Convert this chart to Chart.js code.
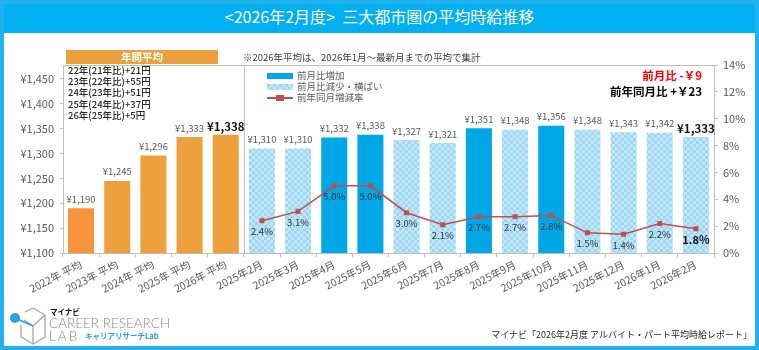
<!DOCTYPE html>
<html><head><meta charset="utf-8">
<script src="https://cdn.jsdelivr.net/npm/chart.js@4"></script>
<style>
body{margin:0;background:#fff;font-family:"Noto Sans CJK JP","Noto Sans",sans-serif;}
#wrap{position:relative;width:759px;height:350px;overflow:hidden;background:#fff;}
#border{position:absolute;left:0;top:0;width:759px;height:350px;box-sizing:border-box;border:4px solid #22b0ee;}
#titlebar{position:absolute;left:0;top:0;width:759px;height:33px;background:#00b0f0;color:#fff;font-size:16px;line-height:33px;text-align:center;}
canvas{position:absolute;left:0;top:0;}
.abs{position:absolute;white-space:nowrap;}
.pat{background-color:#9dd7f4;background-image:conic-gradient(#c2e7f9 25%,transparent 0 50%,#c2e7f9 0 75%,transparent 0);background-size:6px 6px;}
</style></head>
<body>
<div id="wrap">
  <canvas id="c" width="759" height="350"></canvas>
  <div id="titlebar">&lt;2026年2月度&gt;&nbsp;&nbsp;三大都市圏の平均時給推移</div>
  <div id="border"></div>

  <div class="abs" style="left:66px;top:50px;width:152px;height:14px;background:#eda03e;color:#fff;font-weight:bold;font-size:10.5px;line-height:14px;text-align:center;">年間平均</div>
  <div class="abs" style="left:243px;top:51px;font-size:9.5px;line-height:12px;color:#404040;">※2026年平均は、2026年1月～最新月までの平均で集計</div>

  <div class="abs" style="left:68px;top:65px;font-size:9.5px;line-height:11.2px;color:#262626;font-weight:500;">22年(21年比)+21円<br>23年(22年比)+55円<br>24年(23年比)+51円<br>25年(24年比)+37円<br>26年(25年比)+5円</div>

  <div class="abs" style="left:267px;top:73px;width:26px;height:6px;background:#00a7e6;"></div>
  <div class="abs pat" style="left:267px;top:84px;width:26px;height:6px;"></div>
  <div class="abs" style="left:267px;top:97px;width:26px;height:2px;background:#c0504d;"></div>
  <div class="abs" style="left:276px;top:95px;width:8px;height:6px;background:#c0504d;"></div>
  <div class="abs" style="left:297px;top:70px;font-size:9.5px;line-height:11px;color:#595959;">前月比増加<br>前月比減少・横ばい<br>前年同月増減率</div>

  <div class="abs" style="right:57px;top:68px;font-size:11.5px;line-height:15px;color:#ff0000;font-weight:bold;">前月比 -￥9</div>
  <div class="abs" style="right:57px;top:84px;font-size:11.5px;line-height:15px;color:#000;font-weight:bold;">前年同月比 +￥23</div>

  <svg class="abs" style="left:0;top:295px;" width="50" height="55" viewBox="0 295 50 55">
    <g fill="none" stroke="#a6a6a6" stroke-width="1.3">
      <path d="M33 308 L45 315 L45 337 L33 344 L21 337 L21 325"/>
      <path d="M33 308 L25 312"/>
      <path d="M33 326 L45 315 M33 326 L33 344 M33 326 L24 320"/>
    </g>
    <line x1="15" y1="318" x2="33" y2="326" stroke="#29a3dc" stroke-width="1.6"/>
    <circle cx="15" cy="318" r="5" fill="#29a3dc"/>
  </svg>
  <div class="abs" style="left:50px;top:307px;font-size:7.5px;line-height:10px;font-weight:bold;color:#111;">マイナビ</div>
  <div class="abs" style="left:49px;top:315px;font-family:Lato,'Open Sans',sans-serif;font-weight:300;font-size:13.5px;line-height:16px;color:#8c8c8c;">CAREER RESEARCH</div>
  <div class="abs" style="left:49px;top:328px;font-family:Lato,'Open Sans',sans-serif;font-weight:300;font-size:13.5px;line-height:16px;color:#8c8c8c;letter-spacing:2px;">LAB</div>
  <div class="abs" style="left:85px;top:331px;font-size:7.5px;line-height:10px;font-weight:bold;color:#29a3dc;">キャリアリサーチLab</div>

  <div class="abs" style="right:7px;top:329px;font-size:9px;line-height:12px;color:#262626;">マイナビ「2026年2月度 アルバイト・パート平均時給レポート」</div>
</div>
<script>
const annualLabels = ['2022年 平均','2023年 平均','2024年 平均','2025年 平均','2026年 平均'];
const annualWage   = [1190, 1245, 1296, 1333, 1338];
const monthLabels  = ['2025年2月','2025年3月','2025年4月','2025年5月','2025年6月','2025年7月','2025年8月','2025年9月','2025年10月','2025年11月','2025年12月','2026年1月','2026年2月'];
const monthWage    = [1310, 1310, 1332, 1338, 1327, 1321, 1351, 1348, 1356, 1348, 1343, 1342, 1333];
const monthUp      = [false, false, true, true, false, false, true, false, true, false, false, false, false];
const yoyRate      = [2.4, 3.1, 5.0, 5.0, 3.0, 2.1, 2.7, 2.7, 2.8, 1.5, 1.4, 2.2, 1.8];
const wageTicks    = [1100, 1150, 1200, 1250, 1300, 1350, 1400, 1450];
const rateTicks    = [0, 2, 4, 6, 8, 10, 12, 14];

const FONT = '"Noto Sans CJK JP","Noto Sans",sans-serif';
const labels = annualLabels.concat(monthLabels);
const wages = annualWage.concat(monthWage);
const rates = annualLabels.map(() => null).concat(yoyRate);
const boldIdx = [annualWage.length - 1, labels.length - 1];

const pc = document.createElement('canvas');
pc.width = 6; pc.height = 6;
const pctx = pc.getContext('2d');
pctx.fillStyle = '#9dd7f4'; pctx.fillRect(0,0,6,6);
pctx.fillStyle = '#c2e7f9'; pctx.fillRect(0,0,3,3); pctx.fillRect(3,3,3,3);
const pattern = document.getElementById('c').getContext('2d').createPattern(pc, 'repeat');

const barColors = annualWage.map((v,i) => i === 0 ? '#f7953f' : '#eea03c')
  .concat(monthUp.map(u => u ? '#00a7e6' : pattern));

const framePlugin = {
  id: 'frame',
  beforeDatasetsDraw(chart) {
    const {ctx, chartArea: a, scales: {x}} = chart;
    ctx.save();
    ctx.strokeStyle = '#bfbfbf'; ctx.lineWidth = 1;
    ctx.beginPath();
    ctx.moveTo(a.left, Math.round(a.top) + 0.5); ctx.lineTo(a.right, Math.round(a.top) + 0.5);
    const dx = Math.round((x.getPixelForValue(annualLabels.length - 1) + x.getPixelForValue(annualLabels.length)) / 2) + 0.5;
    ctx.moveTo(dx, a.top); ctx.lineTo(dx, a.bottom);
    ctx.stroke();
    ctx.restore();
  }
};

const labelPlugin = {
  id: 'vlabels',
  afterDatasetsDraw(chart) {
    const ctx = chart.ctx;
    ctx.save();
    ctx.textAlign = 'center'; ctx.textBaseline = 'middle';
    chart.getDatasetMeta(0).data.forEach((el, i) => {
      const b = boldIdx.includes(i);
      ctx.font = (b ? 'bold 11.5px ' : '9.5px ') + FONT;
      ctx.fillStyle = b ? '#111' : '#595959';
      ctx.fillText('¥' + wages[i].toLocaleString('en-US'), el.x, el.y - (b ? 8 : 9));
    });
    chart.getDatasetMeta(1).data.forEach((el, i) => {
      if (rates[i] == null) return;
      const b = i === labels.length - 1;
      ctx.font = (b ? 'bold 11px ' : '9.5px ') + FONT;
      ctx.fillStyle = b ? '#111' : '#333';
      ctx.fillText(rates[i].toFixed(1) + '%', el.x, el.y + 11);
    });
    ctx.restore();
  }
};

new Chart(document.getElementById('c'), {
  data: {
    labels: labels,
    datasets: [
      { type: 'bar', data: wages, backgroundColor: barColors, yAxisID: 'y', order: 2,
        categoryPercentage: 0.72, barPercentage: 1 },
      { type: 'line', data: rates, yAxisID: 'y1', order: 1, borderColor: '#c0504d', borderWidth: 1.5,
        pointStyle: 'rect', pointRadius: 2.5, pointBackgroundColor: '#c0504d', pointBorderColor: '#c0504d',
        tension: 0, spanGaps: false }
    ]
  },
  options: {
    responsive: false, animation: false, devicePixelRatio: 1,
    layout: { padding: { top: 65, left: 0, right: 0, bottom: 0 } },
    plugins: { legend: { display: false }, tooltip: { enabled: false } },
    scales: {
      x: {
        offset: true,
        grid: { display: true, drawOnChartArea: false, tickLength: 4, color: '#bfbfbf', offset: true },
        border: { color: '#bfbfbf' },
        ticks: { autoSkip: false, minRotation: 27, maxRotation: 27, color: '#595959', font: { size: 10.5, family: FONT }, padding: 1 },
        afterFit(s) { s.height = 97; }
      },
      y: {
        position: 'left', min: 1100, max: 1478,
        afterBuildTicks(s) { s.ticks = wageTicks.map(v => ({ value: v })); },
        ticks: { callback: v => '¥' + Number(v).toLocaleString('en-US'), color: '#595959', font: { size: 11, family: FONT }, padding: 6 },
        grid: { display: true, drawOnChartArea: false, tickLength: 3, color: '#bfbfbf' },
        border: { color: '#bfbfbf' },
        afterFit(s) { s.width = 63; }
      },
      y1: {
        position: 'right', min: 0, max: 14,
        afterBuildTicks(s) { s.ticks = rateTicks.map(v => ({ value: v })); },
        ticks: { callback: v => v + '%', color: '#595959', font: { size: 11, family: FONT }, padding: 5 },
        grid: { display: true, drawOnChartArea: false, tickLength: 4, color: '#bfbfbf' },
        border: { color: '#bfbfbf' },
        afterFit(s) { s.width = 45; }
      }
    }
  },
  plugins: [framePlugin, labelPlugin]
});
</script>
</body></html>
